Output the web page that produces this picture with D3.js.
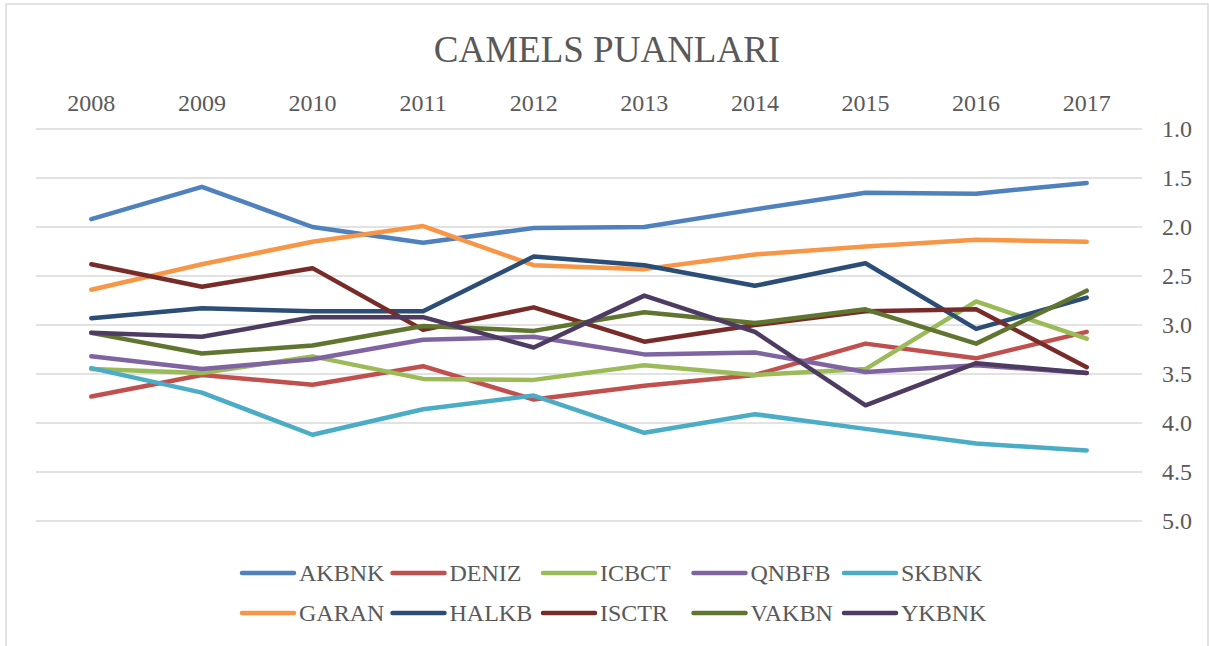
<!DOCTYPE html>
<html>
<head>
  <meta charset="utf-8">
  <title>CAMELS PUANLARI</title>
  <style>
  body { margin: 0; background: #fff; }
  svg text { font-family: "Times New Roman", "Liberation Serif", "DejaVu Serif", serif; fill: #595959; }
  .grid line { stroke: #d9d9d9; stroke-width: 1.5; }
  .series { fill: none; stroke-width: 4.5; stroke-linejoin: round; stroke-linecap: round; }
  </style>
</head>
<body>
  <div id="chart"></div>
  <script src="https://d3js.org/d3.v7.min.js"></script>
  <script>
    var years = ["2008", "2009", "2010", "2011", "2012", "2013", "2014", "2015", "2016", "2017"];
    var yTicks = [1.0, 1.5, 2.0, 2.5, 3.0, 3.5, 4.0, 4.5, 5.0];

    var banks = ["AKBNK", "DENIZ", "ICBCT", "QNBFB", "SKBNK", "GARAN", "HALKB", "ISCTR", "VAKBN", "YKBNK"];
    var colors = ["#4f81bd", "#c0504d", "#9bbb59", "#8064a2", "#4bacc6", "#f79646", "#2c4d75", "#772c2a", "#5f7530", "#4d3b62"];

    var AKBNK = [1.92, 1.59, 2.00, 2.16, 2.01, 2.00, 1.82, 1.65, 1.66, 1.55];
    var DENIZ = [3.73, 3.51, 3.61, 3.42, 3.76, 3.62, 3.51, 3.19, 3.34, 3.07];
    var ICBCT = [3.45, 3.49, 3.32, 3.55, 3.56, 3.41, 3.51, 3.45, 2.76, 3.14];
    var QNBFB = [3.32, 3.45, 3.35, 3.15, 3.12, 3.30, 3.28, 3.48, 3.41, 3.49];
    var SKBNK = [3.44, 3.69, 4.12, 3.86, 3.72, 4.10, 3.91, 4.06, 4.21, 4.28];
    var GARAN = [2.64, 2.38, 2.15, 1.99, 2.39, 2.43, 2.28, 2.20, 2.13, 2.15];
    var HALKB = [2.93, 2.83, 2.86, 2.86, 2.30, 2.39, 2.60, 2.37, 3.04, 2.72];
    var ISCTR = [2.38, 2.61, 2.42, 3.05, 2.82, 3.17, 3.00, 2.86, 2.84, 3.43];
    var VAKBN = [3.08, 3.29, 3.21, 3.01, 3.06, 2.87, 2.98, 2.84, 3.19, 2.65];
    var YKBNK = [3.08, 3.12, 2.92, 2.92, 3.23, 2.70, 3.07, 3.82, 3.39, 3.49];

    var values = [AKBNK, DENIZ, ICBCT, QNBFB, SKBNK, GARAN, HALKB, ISCTR, VAKBN, YKBNK];

    var width = 1209;
    var height = 646;

    var svg = d3.select("#chart").append("svg")
        .attr("width", width)
        .attr("height", height);

    // outer border
    svg.append("rect")
        .attr("x", 6).attr("y", 4)
        .attr("width", 1202).attr("height", 660)
        .attr("fill", "#fff")
        .attr("stroke", "#d9d9d9")
        .attr("stroke-width", 1.5);

    var x = d3.scaleBand()
        .domain(years)
        .range([36, 1142])
        .padding(0);

    var y = d3.scaleLinear()
        .domain([1, 5])
        .range([129, 521]);

    svg.append("text")
        .attr("x", 607)
        .attr("y", 62)
        .attr("text-anchor", "middle")
        .attr("font-size", 37)
        .text("CAMELS PUANLARI");

    // gridlines
    svg.append("g")
        .attr("class", "grid")
        .selectAll("line")
        .data(yTicks)
        .enter().append("line")
          .attr("x1", x.range()[0])
          .attr("x2", x.range()[1])
          .attr("y1", function(d) { return y(d); })
          .attr("y2", function(d) { return y(d); });

    // year labels on top
    var xAxis = svg.append("g")
        .attr("transform", "translate(0,117)")
        .call(d3.axisTop(x).tickSize(0).tickPadding(6));
    xAxis.attr("font-family", null);
    xAxis.select(".domain").remove();
    xAxis.selectAll("text")
        .attr("font-size", 24)
        .attr("fill", "#595959");

    // value labels on the right
    var yAxis = svg.append("g")
        .attr("transform", "translate(1141,0)")
        .call(d3.axisRight(y).tickValues(yTicks).tickSize(0).tickPadding(21)
          .tickFormat(d3.format(".1f")));
    yAxis.attr("font-family", null);
    yAxis.select(".domain").remove();
    yAxis.selectAll("text")
        .attr("font-size", 24)
        .attr("fill", "#595959");

    var line = d3.line()
        .x(function(d, i) { return x(years[i]) + x.bandwidth() / 2; })
        .y(function(d) { return y(d); });

    svg.append("g")
      .selectAll("path")
      .data(values)
      .enter().append("path")
        .attr("class", "series")
        .attr("stroke", function(d, i) { return colors[i]; })
        .attr("d", line);

    // legend, two rows of five
    var legend = svg.append("g")
      .selectAll("g")
      .data(banks)
      .enter().append("g")
        .attr("transform", function(d, i) {
          return "translate(" + (240 + (i % 5) * 150.5) + "," + (573 + Math.floor(i / 5) * 40) + ")";
        });

    legend.append("line")
        .attr("x1", 2).attr("x2", 54)
        .attr("y1", 0).attr("y2", 0)
        .attr("stroke", function(d, i) { return colors[i]; })
        .attr("stroke-width", 4.5)
        .attr("stroke-linecap", "round");

    legend.append("text")
        .attr("x", 59)
        .attr("y", 8)
        .attr("font-size", 24)
        .text(function(d) { return d; });
  </script>
</body>
</html>
